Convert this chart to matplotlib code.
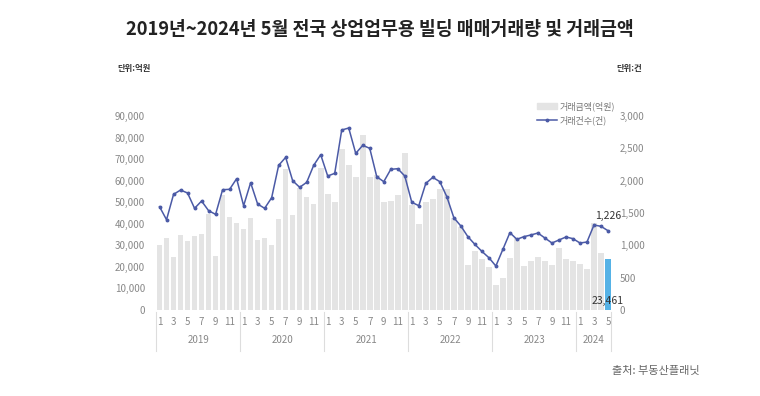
import matplotlib
matplotlib.use("Agg")
from matplotlib import pyplot as plt
from matplotlib import transforms as mtrans

plt.rcParams['font.family'] = ['Noto Sans CJK KR', 'DejaVu Sans']

### Données ###

annees = ['2019', '2020', '2021', '2022', '2023', '2024']
mois = [m for a in annees for m in range(1, 13)][:65]

montant = [30100, 33200, 24700, 34600, 32100, 34500, 35200, 44500, 25200, 53300, 43000, 40300,
           37600, 42700, 32300, 33200, 30100, 42000, 65400, 43900, 56400, 52500, 49000, 66000,
           53800, 50100, 74800, 67400, 61500, 81100, 61800, 62500, 50200, 50400, 53200, 72900,
           48700, 39700, 50200, 51500, 56100, 56100, 42500, 38600, 20900, 27400, 23500, 20100,
           11700, 14700, 24000, 33200, 20400, 22900, 24600, 22900, 20900, 28700, 23500, 22700,
           21300, 18900, 40300, 26300, 23461]

nombre = [1597, 1396, 1788, 1855, 1809, 1572, 1685, 1536, 1479, 1860, 1866, 2030,
          1613, 1968, 1639, 1572, 1736, 2237, 2360, 1999, 1897, 1974, 2237, 2401,
          2072, 2113, 2783, 2814, 2422, 2546, 2500, 2061, 1984, 2175, 2185, 2072,
          1665, 1613, 1958, 2051, 1984, 1752, 1427, 1299, 1134, 1015, 907, 809,
          680, 938, 1195, 1093, 1134, 1160, 1190, 1113, 1036, 1082, 1129, 1103,
          1036, 1051, 1314, 1294, 1226]

titre = '2019년~2024년 5월 전국 상업업무용 빌딩 매매거래량 및 거래금액'

### Dessin ###

fig = plt.figure(figsize=(7.6, 3.96), dpi=100)
ax = fig.add_axes([0.2053, 0.2172, 0.5993, 0.4899])
ax2 = ax.twinx()

n = len(montant)
x = list(range(n))
couleurs = ['#e4e4e4'] * (n - 1) + ['#55b2e6']
barres = ax.bar(x, montant, width=0.8, color=couleurs, zorder=1)
ligne, = ax2.plot(x, nombre, color='#4b5aa6', lw=1.1, marker='o', markersize=1.8, zorder=3)

ax.set_xlim(-0.5, n - 0.5)
ax.set_ylim(0, 90000)
ax2.set_ylim(0, 3000)

ax.set_yticks(range(0, 90001, 10000))
ax.set_yticklabels([f'{v:,}' for v in range(0, 90001, 10000)])
ax2.set_yticks(range(0, 3001, 500))
ax2.set_yticklabels([f'{v:,}' for v in range(0, 3001, 500)])

ticks = [i for i in x if mois[i] % 2 == 1]
ax.set_xticks(ticks)
ax.set_xticklabels([str(mois[i]) for i in ticks])

for a in (ax, ax2):
    for s in a.spines.values():
        s.set_visible(False)
    a.tick_params(length=0, colors='#888888', labelsize=7)
ax.tick_params(axis='y', pad=8)
ax2.tick_params(axis='y', pad=6)
ax.tick_params(axis='x', pad=5)

# séparateurs et années
tr = mtrans.blended_transform_factory(ax.transData, ax.transAxes)
for b in [-0.5, 11.5, 23.5, 35.5, 47.5, 59.5, n - 0.5]:
    ax.plot([b, b], [-0.01, -0.21], transform=tr, color='#dddddd', lw=0.8, clip_on=False)
for k, a in enumerate(annees):
    debut = k * 12
    fin = min(debut + 11, n - 1)
    ax.text((debut + fin) / 2, -0.155, a, transform=tr, ha='center', va='center',
            fontsize=7, color='#888888')

# étiquettes
ax2.annotate(f'{nombre[-1]:,}', (x[-1], nombre[-1]), xytext=(0, 7), textcoords='offset points',
             ha='center', va='bottom', fontsize=7.5, color='#333333')
ax.text(x[-1], 1700, f'{montant[-1]:,}', ha='center', va='bottom', fontsize=7.5, color='#333333',
        zorder=5)

leg = fig.legend([barres, ligne], ['거래금액(억원)', '거래건수(건)'], loc='upper left',
                 bbox_to_anchor=(0.700, 0.755), frameon=False, fontsize=6.5, labelcolor='#777777',
                 handlelength=2.3, handletextpad=0.3, labelspacing=0.45, borderpad=0)
leg.legend_handles[0].set_color('#e4e4e4')

fig.text(0.5, 0.925, titre, ha='center', va='center', fontsize=13.2, fontweight='bold', color='#222222')
fig.text(0.155, 0.828, '단위:억원', ha='left', va='center', fontsize=6, fontweight='bold', color='#333333')
fig.text(0.811, 0.828, '단위:건', ha='left', va='center', fontsize=6, fontweight='bold', color='#333333')
fig.text(0.92, 0.062, '출처: 부동산플래닛', ha='right', va='center', fontsize=8, color='#666666')

fig.savefig('out.png', dpi=100)
